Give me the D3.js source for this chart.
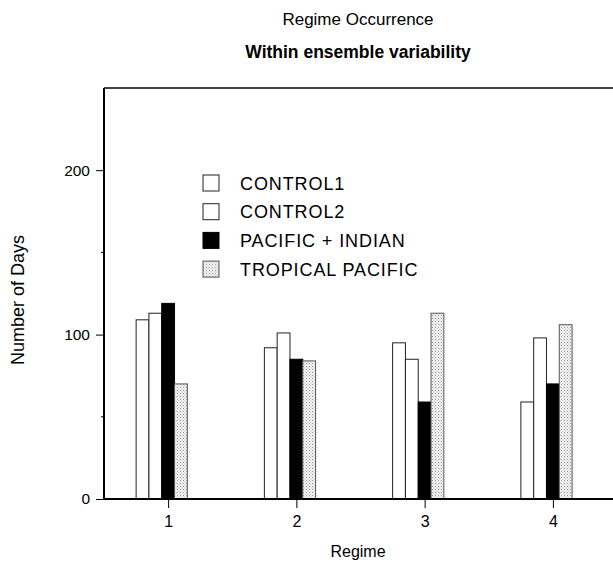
<!DOCTYPE html>
<html>
<head>
<meta charset="utf-8">
<title>Regime Occurrence</title>
<script src="https://cdnjs.cloudflare.com/ajax/libs/d3/7.8.5/d3.min.js"></script>
<style>
  body { margin: 0; background: #fff; }
  text { font-family: "Liberation Sans", Arial, sans-serif; fill: #000; }
</style>
</head>
<body>
<div id="chart"></div>
<script>
// data
var regimes = [1, 2, 3, 4];
var seriesNames = ["CONTROL1", "CONTROL2", "PACIFIC + INDIAN", "TROPICAL PACIFIC"];
var control1 = [109, 92, 95, 59];
var control2 = [113, 101, 85, 98];
var pacificIndian = [119, 85, 59, 70];
var tropicalPacific = [70, 84, 113, 106];
var yTicks = [0, 100, 200];
var yMinor = [50, 150];

var series = [control1, control2, pacificIndian, tropicalPacific];

var w = 613, h = 569;
var plotLeft = 104, plotRight = 617, plotTop = 88, plotBottom = 499;

var svg = d3.select("#chart").append("svg")
  .attr("width", w)
  .attr("height", h);

// stipple pattern for tropical pacific
var defs = svg.append("defs");
var pat = defs.append("pattern")
  .attr("id", "stipple")
  .attr("patternUnits", "userSpaceOnUse")
  .attr("width", 3)
  .attr("height", 3);
pat.append("rect").attr("width", 3).attr("height", 3).attr("fill", "#f2f2f2");
pat.append("rect").attr("x", 0).attr("y", 0).attr("width", 1).attr("height", 1).attr("fill", "#999");
pat.append("rect").attr("x", 1.5).attr("y", 1.5).attr("width", 1).attr("height", 1).attr("fill", "#c0c0c0");

var fills = ["#fff", "#fff", "#000", "url(#stipple)"];
var strokes = ["#222", "#222", "#000", "#555"];

var x = d3.scaleLinear().domain([0.5, 4.5]).range([plotLeft, plotRight]);
var y = d3.scaleLinear().domain([0, 250]).range([plotBottom, plotTop]);
var bw = 12.8;

// bars
series.forEach(function(vals, i) {
  svg.append("g").selectAll("rect")
    .data(vals)
    .enter()
    .append("rect")
    .attr("x", function(d, j) { return x(regimes[j]) + (i - 2.5) * bw; })
    .attr("y", function(d) { return y(d); })
    .attr("width", bw)
    .attr("height", function(d) { return plotBottom - y(d); })
    .attr("fill", fills[i])
    .attr("stroke", strokes[i])
    .attr("stroke-width", 1);
});

// frame: top line
svg.append("line")
  .attr("x1", plotLeft).attr("x2", w).attr("y1", plotTop).attr("y2", plotTop)
  .attr("stroke", "#000").attr("stroke-width", 1.5);

var yAxis = d3.axisLeft(y).tickValues(yTicks).tickSize(8).tickPadding(6);
var gy = svg.append("g").attr("transform", "translate(" + plotLeft + ",0)").call(yAxis);
gy.select(".domain").attr("stroke-width", 2).attr("d", "M0," + plotTop + "V" + plotBottom);
gy.selectAll(".tick line").attr("stroke-width", 1);
gy.selectAll("text").style("font-size", "15.5px").style("font-family", "Liberation Sans, Arial, sans-serif");

svg.append("g").selectAll("line")
  .data(yMinor)
  .enter()
  .append("line")
  .attr("x1", plotLeft - 3).attr("x2", plotLeft)
  .attr("y1", function(d) { return y(d); })
  .attr("y2", function(d) { return y(d); })
  .attr("stroke", "#000");

var xAxis = d3.axisBottom(x).tickValues(regimes).tickSize(9).tickPadding(8).tickFormat(d3.format("d"));
var gx = svg.append("g").attr("transform", "translate(0," + plotBottom + ")").call(xAxis);
gx.select(".domain").attr("stroke-width", 2).attr("d", "M" + (plotLeft - 1) + ",0H" + w);
gx.selectAll("text").style("font-size", "16px").style("font-family", "Liberation Sans, Arial, sans-serif");

// titles
svg.append("text")
  .attr("x", 358).attr("y", 25)
  .attr("text-anchor", "middle")
  .style("font-size", "17px")
  .text("Regime Occurrence");

svg.append("text")
  .attr("x", 358).attr("y", 58)
  .attr("text-anchor", "middle")
  .style("font-size", "17.5px")
  .style("font-weight", "bold")
  .text("Within ensemble variability");

svg.append("text")
  .attr("transform", "translate(24,300) rotate(-90)")
  .attr("text-anchor", "middle")
  .style("font-size", "18px")
  .text("Number of Days");

svg.append("text")
  .attr("x", 358).attr("y", 557)
  .attr("text-anchor", "middle")
  .style("font-size", "16px")
  .text("Regime");

// legend
var legend = svg.append("g").selectAll("g")
  .data(seriesNames)
  .enter()
  .append("g")
  .attr("transform", function(d, i) { return "translate(203," + (175 + i * 28.7) + ")"; });

legend.append("rect")
  .attr("width", 16).attr("height", 16)
  .attr("fill", function(d, i) { return fills[i]; })
  .attr("stroke", function(d, i) { return strokes[i]; });

legend.append("text")
  .attr("x", 37).attr("y", 14.5)
  .style("font-size", "18px")
  .style("letter-spacing", "0.9px")
  .text(function(d) { return d; });
</script>
</body>
</html>
